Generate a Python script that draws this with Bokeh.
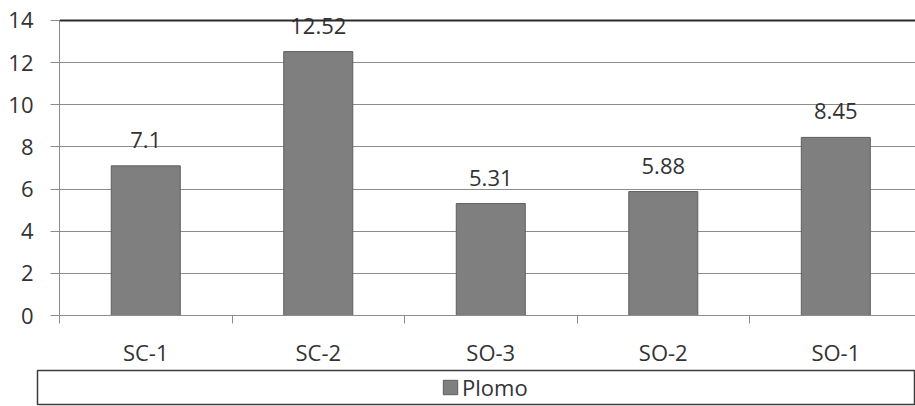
from bokeh.plotting import figure
from bokeh.models import FixedTicker, Span, Legend, LegendItem
from bokeh.layouts import column
from bokeh.core.properties import value
from bokeh.embed import file_html
from bokeh.resources import INLINE

# Lead (Plomo) concentration per sampling point
categories = ["SC-1", "SC-2", "SO-3", "SO-2", "SO-1"]
plomo = [7.1, 12.52, 5.31, 5.88, 8.45]
value_labels = ["7.1", "12.52", "5.31", "5.88", "8.45"]
y_ticks = [0, 2, 4, 6, 8, 10, 12, 14]
series_name = "Plomo"

FONT = "Open Sans"
FS = "22px"
TEXT = "#333333"
BAR_FILL = "#7f7f7f"
BAR_LINE = "#5e5e5e"
GRID = "#8c8c8c"

x = [i + 0.5 for i in range(len(categories))]
boundaries = list(range(len(categories) + 1))

# a little headroom above 14 keeps the tallest value label unclipped
p = figure(width=915, height=369, x_range=(0, 4.962), y_range=(0, 14.566),
           output_backend="svg", toolbar_location=None,
           min_border_left=59, min_border_right=0,
           min_border_top=8, min_border_bottom=52)
p.outline_line_color = None
p.background_fill_color = "white"
p.border_fill_color = "white"

bars = p.vbar(x=x, top=plomo, width=0.4, fill_color=BAR_FILL,
              line_color=BAR_LINE, line_width=1)

p.text(x=x, y=plomo, text=value_labels, text_align="center",
       text_baseline="alphabetic", y_offset=-26,
       text_font=value(FONT), text_font_size=FS, text_color=TEXT)

# category axis: labels under each bar, tick marks between categories
p.xaxis.ticker = FixedTicker(ticks=x, minor_ticks=boundaries)
p.xaxis.major_label_overrides = {xi: c for xi, c in zip(x, categories)}
p.xaxis.major_tick_line_color = None
p.xaxis.minor_tick_line_color = GRID
p.xaxis.minor_tick_in = 0
p.xaxis.minor_tick_out = 8
p.xaxis.axis_line_color = GRID
p.xaxis.major_label_standoff = 13
p.xaxis.major_label_text_font = FONT
p.xaxis.major_label_text_font_size = FS
p.xaxis.major_label_text_color = TEXT

p.yaxis.ticker = FixedTicker(ticks=y_ticks)
p.yaxis.bounds = (y_ticks[0], y_ticks[-1])
p.yaxis.axis_line_color = GRID
p.yaxis.major_tick_line_color = GRID
p.yaxis.major_tick_in = 0
p.yaxis.major_tick_out = 9
p.yaxis.minor_tick_line_color = None
p.yaxis.major_label_standoff = 17
p.yaxis.major_label_text_font = FONT
p.yaxis.major_label_text_font_size = FS
p.yaxis.major_label_text_color = TEXT

p.xgrid.visible = False
p.ygrid.grid_line_color = GRID
p.ygrid.grid_line_width = 1

# darker top border of the plot area
p.add_layout(Span(location=y_ticks[-1], dimension="width",
                  line_color="#2a2a2a", line_width=2))

# legend strip below the chart, framed by its own plot outline
lg = figure(width=915, height=37, x_range=(0, 1), y_range=(0, 1),
            output_backend="svg", toolbar_location=None,
            x_axis_location=None, y_axis_location=None,
            min_border_left=37, min_border_right=0,
            min_border_top=1, min_border_bottom=2)
for fig in (p, lg):
    if "frame_align" in fig.properties():
        fig.frame_align = False
lg.grid.visible = False
lg.outline_line_color = "#3c3c3c"
lg.outline_line_width = 1.5
lg.background_fill_color = "white"
lg.border_fill_color = "white"

# same bars, kept hidden: they only supply the legend swatch
swatch = lg.vbar(x=x, top=plomo, width=0.4, fill_color=BAR_FILL,
                 line_color=BAR_LINE, visible=False)
legend = Legend(items=[LegendItem(label=series_name, renderers=[swatch])],
                location=(404, 2), orientation="horizontal",
                glyph_width=18, glyph_height=18, label_height=18,
                label_standoff=3, padding=0, margin=0,
                border_line_color=None, background_fill_alpha=0,
                inactive_fill_alpha=0,
                label_text_font=FONT, label_text_font_size=FS,
                label_text_color=TEXT)
lg.add_layout(legend)

layout = column(p, lg, spacing=0)
open("out.html", "w").write(file_html(layout, INLINE))
